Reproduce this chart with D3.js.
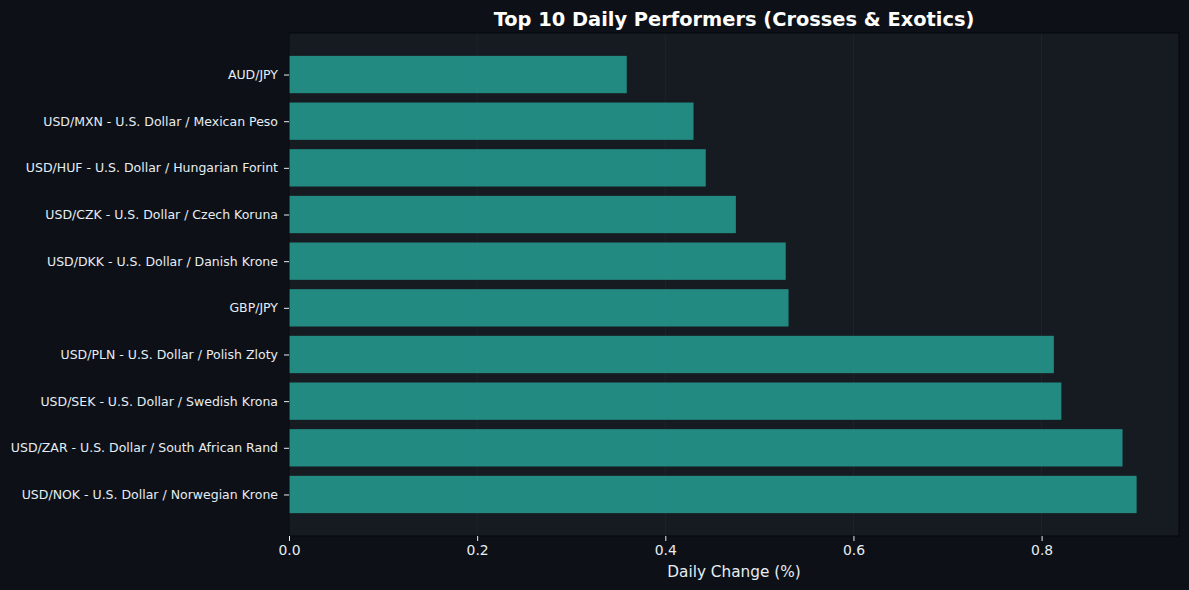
<!DOCTYPE html>
<html><head><meta charset="utf-8">
<script src="https://cdn.jsdelivr.net/npm/d3@7"></script>
<style>
html,body{margin:0;padding:0;background:#0d1117;}
svg{display:block;font-family:"DejaVu Sans",sans-serif;}
</style></head>
<body>
<svg id="chart" width="1189" height="590"></svg>
<script>
const categories = [
  "AUD/JPY",
  "USD/MXN - U.S. Dollar / Mexican Peso",
  "USD/HUF - U.S. Dollar / Hungarian Forint",
  "USD/CZK - U.S. Dollar / Czech Koruna",
  "USD/DKK - U.S. Dollar / Danish Krone",
  "GBP/JPY",
  "USD/PLN - U.S. Dollar / Polish Zloty",
  "USD/SEK - U.S. Dollar / Swedish Krona",
  "USD/ZAR - U.S. Dollar / South African Rand",
  "USD/NOK - U.S. Dollar / Norwegian Krone"
];
const values = [0.359, 0.430, 0.443, 0.475, 0.528, 0.531, 0.813, 0.821, 0.886, 0.901];
const xTicks = [0.0, 0.2, 0.4, 0.6, 0.8];
const title = "Top 10 Daily Performers (Crosses & Exotics)";
const xLabel = "Daily Change (%)";

const svg = d3.select("#chart");
const m = {left: 289, right: 1179, top: 33, bottom: 536};

svg.append("rect").attr("width",1189).attr("height",590).attr("fill","#0d1117");
svg.append("rect").attr("x",m.left).attr("y",m.top)
  .attr("width",m.right-m.left).attr("height",m.bottom-m.top).attr("fill","#161b22");

const xmax = d3.max(values)*1.05;
const x = d3.scaleLinear().domain([0, xmax]).range([m.left, m.right]);
const n = categories.length;
const y = d3.scaleLinear().domain([-0.4-0.49, n-1+0.4+0.49]).range([m.top, m.bottom]);
const barH = y(0.4)-y(-0.4);

// grid
svg.append("g").selectAll("line").data(xTicks).join("line")
  .attr("x1",d=>x(d)).attr("x2",d=>x(d)).attr("y1",m.top).attr("y2",m.bottom)
  .attr("stroke","#30363d").attr("stroke-width",0.8).attr("opacity",0.4);

// bars
svg.append("g").selectAll("rect").data(values).join("rect")
  .attr("x",x(0)).attr("y",(d,i)=>y(i)-barH/2)
  .attr("width",d=>x(d)-x(0)).attr("height",barH)
  .attr("fill","#26a69a").attr("fill-opacity",0.8);

// spines
svg.append("rect").attr("x",m.left).attr("y",m.top)
  .attr("width",m.right-m.left).attr("height",m.bottom-m.top)
  .attr("fill","none").attr("stroke","#05070a").attr("stroke-width",1);

// x axis
const xAxis = d3.axisBottom(x).tickValues(xTicks).tickFormat(d3.format(".1f")).tickSize(5).tickPadding(4.5);
const gx = svg.append("g").attr("transform",`translate(0,${m.bottom})`).call(xAxis);
gx.select(".domain").remove();
gx.selectAll("line").attr("stroke","#e6edf3");
gx.selectAll("text").attr("fill","#e6edf3").attr("font-size","13.9px").attr("font-family","DejaVu Sans");

// y axis
const yAxis = d3.axisLeft(y).tickValues(d3.range(n)).tickFormat(i=>categories[i]).tickSize(5).tickPadding(6);
const gy = svg.append("g").attr("transform",`translate(${m.left},0)`).call(yAxis);
gy.select(".domain").remove();
gy.selectAll("line").attr("stroke","#e6edf3");
gy.selectAll("text").attr("fill","#e6edf3").attr("font-size","12.5px").attr("font-family","DejaVu Sans");

svg.append("text").attr("x",(m.left+m.right)/2).attr("y",577)
  .attr("text-anchor","middle").attr("fill","#e6edf3").attr("font-size","15.3px").text(xLabel);
svg.append("text").attr("x",(m.left+m.right)/2).attr("y",26)
  .attr("text-anchor","middle").attr("fill","#ffffff").attr("font-weight","bold").attr("font-size","19.4px").text(title);
</script>
</body></html>
